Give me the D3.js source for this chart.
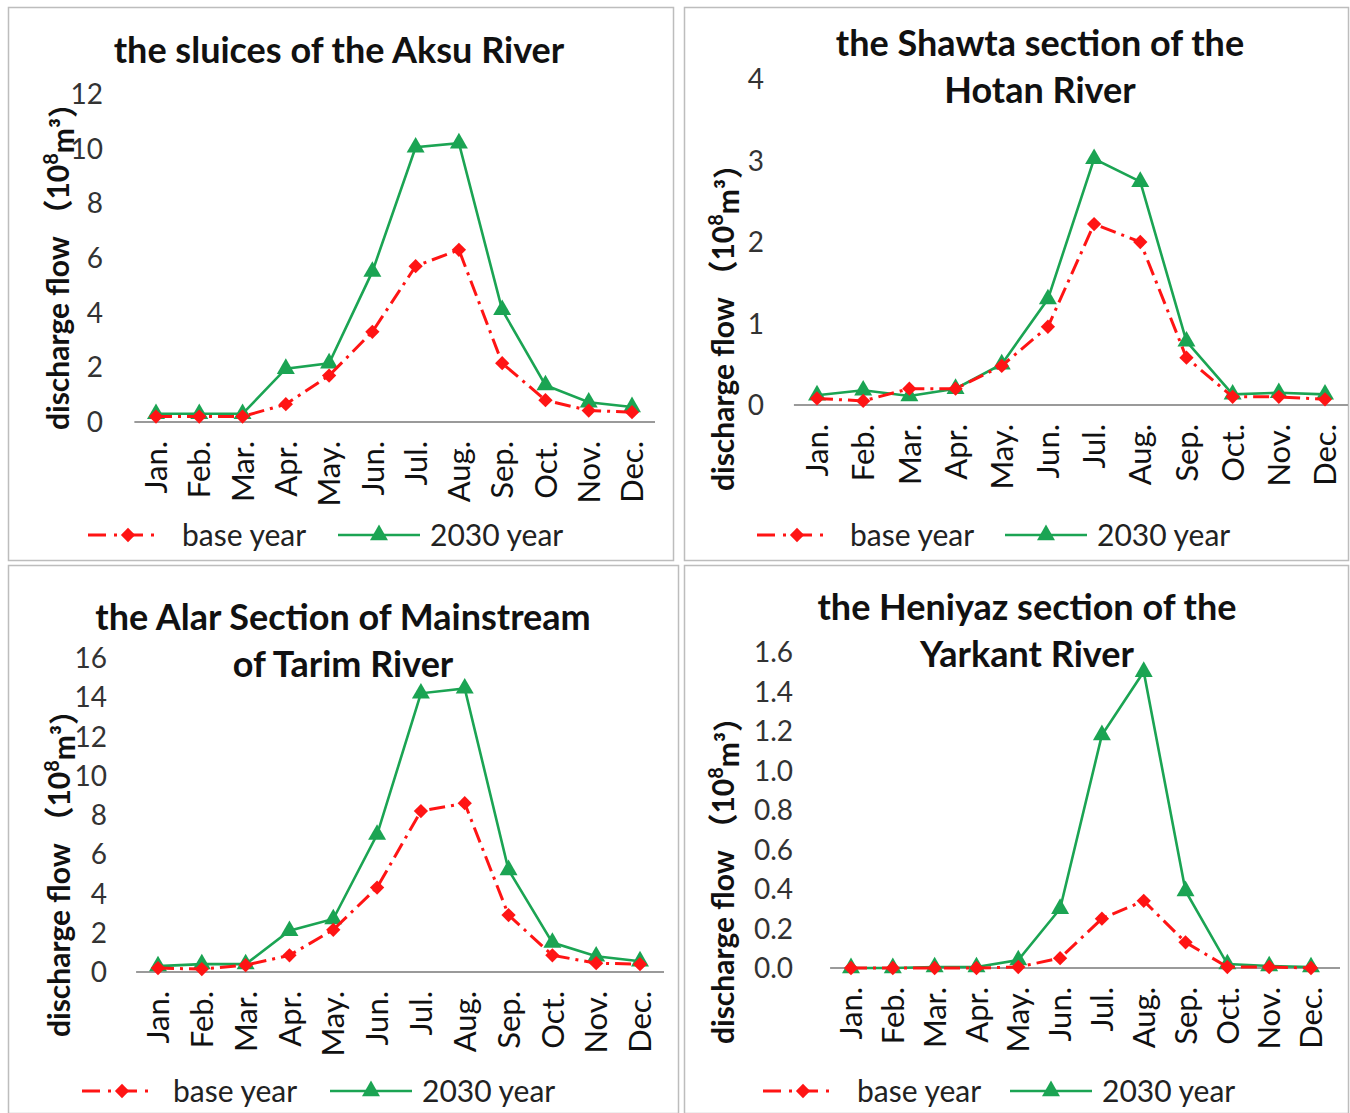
<!DOCTYPE html>
<html>
<head>
<meta charset="utf-8">
<script src="https://cdn.jsdelivr.net/npm/d3@7"></script>
<style>
  body { margin: 0; background: #fff; }
  svg { display: block; font-family: Lato, "Open Sans", "Noto Sans CJK SC", sans-serif; }
</style>
</head>
<body>
<svg id="chart" width="1350" height="1113"></svg>
<script>
// months on the x axis
var months = ["Jan.", "Feb.", "Mar.", "Apr.", "May.", "Jun.", "Jul.", "Aug.", "Sep.", "Oct.", "Nov.", "Dec."];

// the sluices of the Aksu River
var aksu_base = [0.2, 0.2, 0.2, 0.65, 1.7, 3.3, 5.7, 6.3, 2.15, 0.8, 0.42, 0.36];
var aksu_2030 = [0.3, 0.3, 0.3, 1.95, 2.15, 5.5, 10.05, 10.2, 4.1, 1.35, 0.72, 0.55];
var aksu_ticks = [0, 2, 4, 6, 8, 10, 12];

// the Shawta section of the Hotan River
var hotan_base = [0.08, 0.05, 0.2, 0.2, 0.48, 0.96, 2.22, 2.0, 0.58, 0.1, 0.1, 0.07];
var hotan_2030 = [0.12, 0.18, 0.11, 0.2, 0.5, 1.3, 3.02, 2.74, 0.78, 0.13, 0.15, 0.13];
var hotan_ticks = [0, 1, 2, 3, 4];

// the Alar Section of Mainstream of Tarim River
var alar_base = [0.2, 0.15, 0.35, 0.85, 2.15, 4.3, 8.2, 8.6, 2.9, 0.85, 0.45, 0.4];
var alar_2030 = [0.3, 0.4, 0.4, 2.1, 2.7, 7.0, 14.2, 14.45, 5.2, 1.5, 0.8, 0.55];
var alar_ticks = [0, 2, 4, 6, 8, 10, 12, 14, 16];

// the Heniyaz section of the Yarkant River
var yarkant_base = [0, 0, 0, 0, 0.005, 0.05, 0.25, 0.34, 0.13, 0.005, 0.005, 0];
var yarkant_2030 = [0, 0, 0.005, 0.005, 0.04, 0.3, 1.18, 1.5, 0.39, 0.02, 0.01, 0.005];
var yarkant_ticks = [0, 0.2, 0.4, 0.6, 0.8, 1.0, 1.2, 1.4, 1.6];

var legend_names = ["base year", "2030 year"];

var RED = "#ff1414", GREEN = "#1ba453", AXIS = "#9a9a9a";

var panels = [
  {title: ["the sluices of the Aksu River"], titleY: 50, titleX: 339,
   base: aksu_base, future: aksu_2030, ticks: aksu_ticks, fmt: d3.format("d"),
   frame: [8, 7, 665, 553], x0: 156, x1: 632, y0: 422, y1: 94, axisR: 655, tickX: 103,
   ytitle: [58, 259], legend: {y: 535, red: 88, redText: 182, green: 338, greenText: 430}},
  {title: ["the Shawta section of the", "Hotan River"], titleY: 43, titleX: 1040,
   base: hotan_base, future: hotan_2030, ticks: hotan_ticks, fmt: d3.format("d"),
   frame: [684, 7, 664, 553], x0: 817, x1: 1325, y0: 405, y1: 79, axisR: 1348, tickX: 764,
   ytitle: [723, 320], legend: {y: 535, red: 757, redText: 850, green: 1005, greenText: 1097}},
  {title: ["the Alar Section of Mainstream", "of Tarim River"], titleY: 617, titleX: 343,
   base: alar_base, future: alar_2030, ticks: alar_ticks, fmt: d3.format("d"),
   frame: [8, 565, 670, 548], x0: 158, x1: 640, y0: 972, y1: 658, axisR: 664, tickX: 107,
   ytitle: [59, 866], legend: {y: 1091, red: 82, redText: 173, green: 330, greenText: 422}},
  {title: ["the Heniyaz section of the", "Yarkant River"], titleY: 607, titleX: 1027,
   base: yarkant_base, future: yarkant_2030, ticks: yarkant_ticks, fmt: d3.format(".1f"),
   frame: [684, 565, 664, 548], x0: 851, x1: 1311, y0: 968, y1: 652, axisR: 1340, tickX: 793,
   ytitle: [723, 873], legend: {y: 1091, red: 763, redText: 857, green: 1010, greenText: 1102}}
];

var svg = d3.select("#chart");
var diamond = d3.symbol().type(d3.symbolDiamond2).size(130);
var triangle = d3.symbol().type(d3.symbolTriangle).size(140);

panels.forEach(function(p){
  var g = svg.append("g");

  g.append("rect")
    .attr("x", p.frame[0] + 0.5).attr("y", p.frame[1] + 0.5)
    .attr("width", p.frame[2]).attr("height", p.frame[3])
    .attr("fill", "#fff").attr("stroke", "#bdbdbd").attr("stroke-width", 1.5);

  var x = d3.scalePoint().domain(months).range([p.x0, p.x1]);
  var y = d3.scaleLinear().domain([0, d3.max(p.ticks)]).range([p.y0, p.y1]);
  var step = x.step();

  // x axis line, no tick marks
  g.append("line")
    .attr("x1", p.x0 - step / 2).attr("x2", p.axisR)
    .attr("y1", y(0)).attr("y2", y(0))
    .attr("stroke", AXIS).attr("stroke-width", 2);

  // y tick labels
  g.selectAll(".ytick").data(p.ticks).enter().append("text")
    .attr("x", p.tickX).attr("y", function(d){ return y(d); })
    .attr("dy", "0.36em").attr("text-anchor", "end")
    .attr("font-size", 28).attr("fill", "#333")
    .text(p.fmt);

  // month labels, rotated
  g.selectAll(".xtick").data(months).enter().append("text")
    .attr("transform", function(d){ return "translate(" + x(d) + "," + (y(0) + 19) + ") rotate(-90)"; })
    .attr("dy", "0.36em").attr("text-anchor", "end")
    .attr("font-size", 31).attr("fill", "#111")
    .text(function(d){ return d; });

  // y axis title
  var yt = g.append("text")
    .attr("transform", "translate(" + p.ytitle[0] + "," + p.ytitle[1] + ") rotate(-90)")
    .attr("text-anchor", "middle").attr("dy", "0.36em")
    .attr("font-size", 30).attr("font-weight", "bold").attr("fill", "#111")
    .style("white-space", "pre");
  yt.append("tspan").text("discharge flow \uff0810");
  yt.append("tspan").attr("font-size", 20).attr("dy", "-0.55em").text("8");
  yt.append("tspan").attr("dy", "0.55em").text("m³\uff09");

  // title
  g.selectAll(".title").data(p.title).enter().append("text")
    .attr("x", p.titleX).attr("y", function(d, i){ return p.titleY + i * 47; })
    .attr("dy", "0.36em").attr("text-anchor", "middle")
    .attr("font-size", 36).attr("font-weight", "bold").attr("fill", "#111")
    .text(function(d){ return d; });

  var line = d3.line()
    .x(function(d, i){ return x(months[i]); })
    .y(function(d){ return y(d); });

  // 2030 year
  g.append("path").datum(p.future)
    .attr("d", line).attr("fill", "none")
    .attr("stroke", GREEN).attr("stroke-width", 2.6);
  g.selectAll(".tri").data(p.future).enter().append("path")
    .attr("d", triangle)
    .attr("transform", function(d, i){ return "translate(" + x(months[i]) + "," + y(d) + ")"; })
    .attr("fill", GREEN);

  // base year
  g.append("path").datum(p.base)
    .attr("d", line).attr("fill", "none")
    .attr("stroke", RED).attr("stroke-width", 3)
    .attr("stroke-dasharray", "16,6,3,6");
  g.selectAll(".dia").data(p.base).enter().append("path")
    .attr("d", diamond)
    .attr("transform", function(d, i){ return "translate(" + x(months[i]) + "," + y(d) + ")"; })
    .attr("fill", RED);

  // legend
  var L = p.legend;
  g.append("line")
    .attr("x1", L.red).attr("x2", L.red + 72).attr("y1", L.y).attr("y2", L.y)
    .attr("stroke", RED).attr("stroke-width", 3).attr("stroke-dasharray", "18,8,3,8");
  g.append("path").attr("d", diamond)
    .attr("transform", "translate(" + (L.red + 40) + "," + L.y + ")").attr("fill", RED);
  g.append("text").attr("x", L.redText).attr("y", L.y).attr("dy", "0.36em")
    .attr("font-size", 30).attr("fill", "#222").text(legend_names[0]);

  g.append("line")
    .attr("x1", L.green).attr("x2", L.green + 82).attr("y1", L.y).attr("y2", L.y)
    .attr("stroke", GREEN).attr("stroke-width", 2.6);
  g.append("path").attr("d", triangle)
    .attr("transform", "translate(" + (L.green + 41) + "," + L.y + ")").attr("fill", GREEN);
  g.append("text").attr("x", L.greenText).attr("y", L.y).attr("dy", "0.36em")
    .attr("font-size", 30).attr("fill", "#222").text(legend_names[1]);
});
</script>
</body>
</html>
